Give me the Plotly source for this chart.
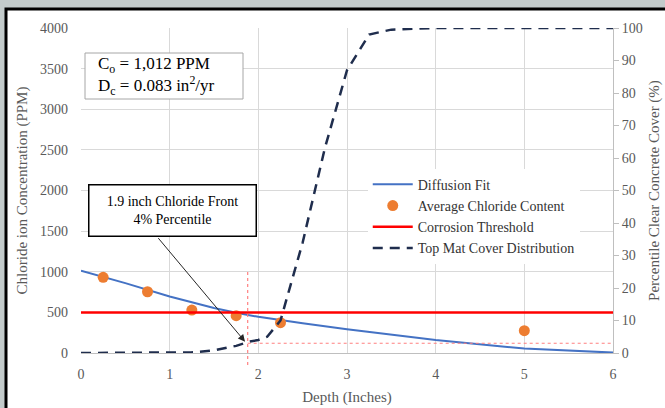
import plotly.graph_objects as go

# ---- data ----
fit_depth = [0, 0.5, 1.0, 1.25, 1.5, 1.75, 2.0, 2.5, 3.0, 4.0, 5.0, 6.0]
fit_conc = [1012, 860, 695, 625, 553, 495, 445, 365, 292, 160, 55, 5]

avg_depth = [0.25, 0.75, 1.25, 1.75, 2.25, 5.0]
avg_conc = [931, 754, 529, 459, 373, 275]

threshold_depth = [0, 6]
threshold_conc = [500, 500]

cover_depth = [0, 0.5, 1.0, 1.25, 1.5, 1.75, 1.9, 2.0, 2.1, 2.25, 2.5, 2.75, 3.0, 3.25, 3.5, 4.0, 5.0, 6.0]
cover_pct = [0, 0, 0, 0.2, 0.8, 2.2, 3.5, 4, 5, 10, 34, 63, 87, 98, 99.5, 100, 100, 100]

front_depth = 1.88
front_pct = 3.0

x_ticks = [0, 1, 2, 3, 4, 5, 6]
y_ticks = [0, 500, 1000, 1500, 2000, 2500, 3000, 3500, 4000]
y2_ticks = [0, 10, 20, 30, 40, 50, 60, 70, 80, 90, 100]

SERIF = "Liberation Serif, Times New Roman, serif"
GRAY = "#595959"

# plot-area geometry (pixels) used only to place boxes/annotations
PL, PR, PT, PB = 81, 613, 28, 353


def px_x(p):
    return (p - PL) / (PR - PL) * 6


def px_y(p):
    return (PB - p) / (PB - PT) * 4000


fig = go.Figure()
fig.add_trace(go.Scatter(x=fit_depth, y=fit_conc, mode="lines", name="Diffusion Fit",
                         line=dict(color="#4472C4", width=2)))
fig.add_trace(go.Scatter(x=avg_depth, y=avg_conc, mode="markers", name="Average Chloride Content",
                         marker=dict(color="#ED7D31", size=11)))
fig.add_trace(go.Scatter(x=threshold_depth, y=threshold_conc, mode="lines", name="Corrosion Threshold",
                         line=dict(color="#FF0000", width=2.5)))
fig.add_trace(go.Scatter(x=cover_depth, y=cover_pct, mode="lines", name="Top Mat Cover Distribution",
                         yaxis="y2", line=dict(color="#1F2D4D", width=2.5, dash="10px,7px")))

shapes = [
    # outer white panel with black border
    dict(type="rect", xref="paper", yref="paper",
         x0=(6 - PL) / (PR - PL), x1=(700 - PL) / (PR - PL),
         y0=(PB - 440) / (PB - PT), y1=(PB - 9) / (PB - PT),
         line=dict(color="black", width=3), fillcolor="white", layer="below"),
    # parameter box
    dict(type="rect", xref="x", yref="y", x0=px_x(85), x1=px_x(243), y0=px_y(99), y1=px_y(53),
         line=dict(color="#A6A6A6", width=1), fillcolor="white", layer="above"),
    # dotted guides
    dict(type="line", xref="x", yref="paper", x0=front_depth, x1=front_depth,
         y0=-0.037, y1=0.255, line=dict(color="#FF8080", width=1.2, dash="dot")),
    dict(type="line", xref="x", yref="y2", x0=front_depth, x1=6,
         y0=front_pct, y1=front_pct, line=dict(color="#FF8080", width=1.2, dash="dot")),
]

annotations = [
    dict(xref="x", yref="y", x=px_x(96), y=px_y(76), xanchor="left", yanchor="middle",
         text="C<sub>o</sub> = 1,012 PPM<br>D<sub>c</sub> = 0.083 in<sup>2</sup>/yr",
         showarrow=False, align="left",
         font=dict(family=SERIF, size=17, color="black")),
    dict(xref="x", yref="y", x=px_x(172.5), y=px_y(210), xanchor="center", yanchor="middle",
         text="1.9 inch Chloride Front<br>4% Percentile", showarrow=False, align="center",
         width=162, height=46, font=dict(family=SERIF, size=14, color="black"),
         bgcolor="white", bordercolor="black", borderwidth=1.5, borderpad=2),
    dict(xref="x", yref="y2", x=1.85, y=3.5, ax=-88, ay=-105, text="",
         showarrow=True, arrowhead=2, arrowsize=1.4, arrowwidth=1, arrowcolor="#262626"),
]

fig.update_layout(
    width=665, height=408,
    margin=dict(l=PL, r=665 - PR, t=PT, b=408 - PB),
    paper_bgcolor="#C3CBCB", plot_bgcolor="white",
    font=dict(family=SERIF, color=GRAY, size=14),
    showlegend=True,
    legend=dict(x=0.539, y=0.567, xanchor="left", yanchor="top", bgcolor="white",
                font=dict(family=SERIF, size=14, color="#333333"), tracegroupgap=0,
                itemwidth=40),
    xaxis=dict(range=[0, 6], tickvals=x_ticks, showgrid=True, gridcolor="#D9D9D9",
               zeroline=False, showline=True, linecolor="#BFBFBF", ticks="",
               ticklabelstandoff=8, tickfont=dict(size=14, color=GRAY), automargin=False,
               title=dict(text="Depth (Inches)", font=dict(size=15, color=GRAY), standoff=10)),
    yaxis=dict(range=[0, 4000], tickvals=y_ticks, showgrid=True, gridcolor="#D9D9D9",
               zeroline=False, showline=False, ticks="", ticklabelstandoff=12,
               tickfont=dict(size=14, color=GRAY), automargin=False,
               title=dict(text="Chloride ion Concentration (PPM)", font=dict(size=15, color=GRAY),
                          standoff=8)),
    yaxis2=dict(range=[0, 100], tickvals=y2_ticks, overlaying="y", side="right",
                showgrid=False, zeroline=False, showline=True, linecolor="#BFBFBF",
                ticks="outside", ticklen=5, tickcolor="#BFBFBF", automargin=False,
                tickfont=dict(size=14, color=GRAY),
                title=dict(text="Percentile Clear Concrete Cover (%)", font=dict(size=15, color=GRAY),
                           standoff=6)),
    shapes=shapes, annotations=annotations,
)

fig.write_html("out.html", config={"displayModeBar": False},
               post_script="document.body.style.margin='0';")
